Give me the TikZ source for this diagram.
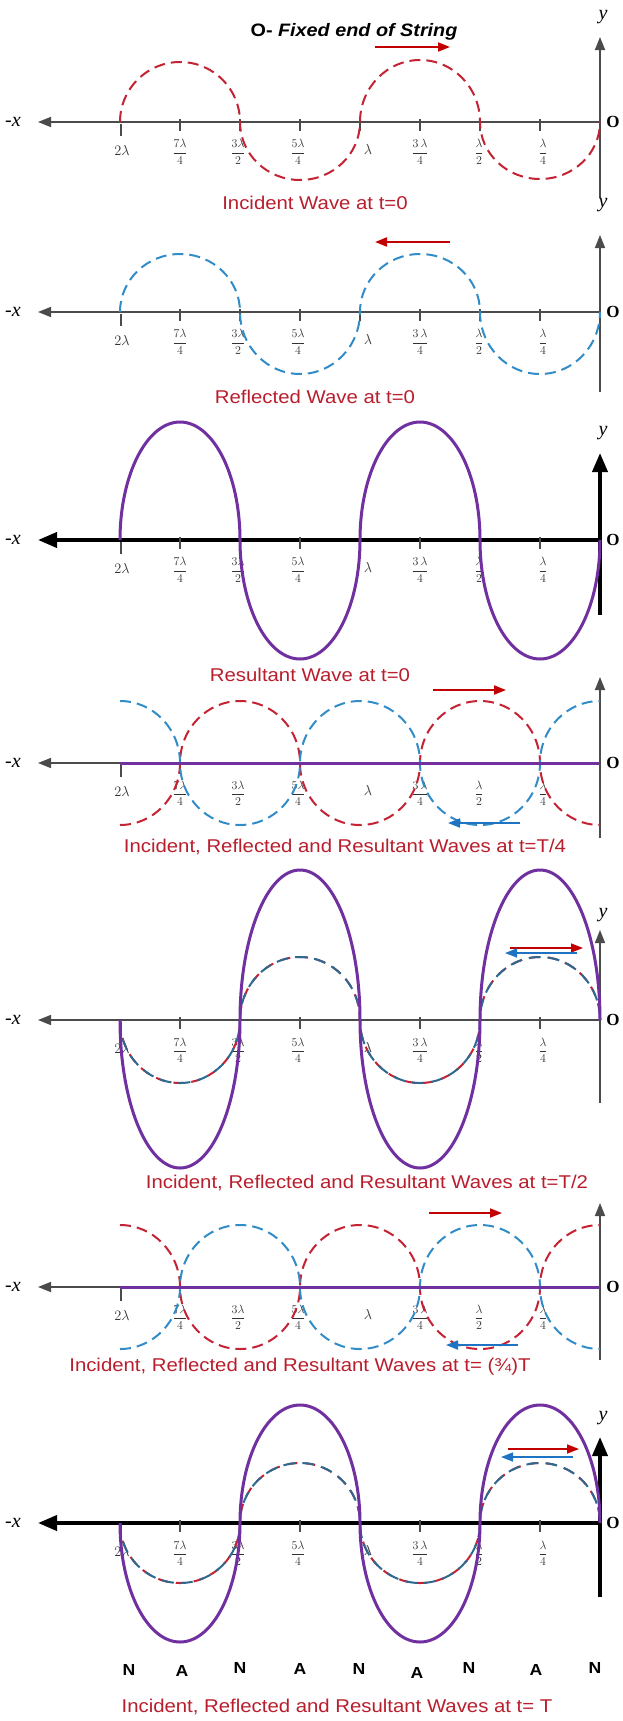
\documentclass[tikz,border=0pt]{standalone}
\usepackage{fontspec}
\usepackage{amsmath}
\usetikzlibrary{arrows.meta}
\newfontfamily\capfont[FakeStretch=1.1]{Liberation Sans}
\newfontfamily\serfont{Liberation Serif}
\definecolor{wred}{RGB}{195,35,50}
\definecolor{wblue}{RGB}{50,140,200}
\definecolor{wteal}{RGB}{45,105,145}
\definecolor{wpurple}{RGB}{112,48,160}
\definecolor{capred}{RGB}{185,30,45}
\definecolor{arrred}{RGB}{195,0,0}
\definecolor{arrblue}{RGB}{30,115,195}
\definecolor{axgray}{RGB}{75,75,75}
\tikzset{
 axthin/.style={draw=axgray,line width=1.6pt,-{Triangle[length=13pt,width=10pt]}},
 axthick/.style={draw=black,line width=3.8pt,-{Triangle[length=19pt,width=15pt]}},
 tickst/.style={draw=axgray,line width=1.2pt},
 incw/.style={draw=wred,line width=2pt,dash pattern=on 11pt off 6pt},
 refw/.style={draw=wblue,line width=2pt,dash pattern=on 11pt off 6pt},
 incw2/.style={draw=wred,line width=2pt,dash pattern=on 10pt off 8pt},
 refw2/.style={draw=wteal,line width=2pt,dash pattern=on 12pt off 7pt},
 resw/.style={draw=wpurple,line width=3pt},
 redarr/.style={draw=arrred,line width=1.8pt,-{Triangle[length=12pt,width=9pt]}},
 bluearr/.style={draw=arrblue,line width=1.8pt,-{Triangle[length=12pt,width=9pt]}},
 captxt/.style={text=capred,font=\capfont\fontsize{18.5}{20}\selectfont,inner sep=0pt},
 titl/.style={text=black,font=\capfont\bfseries\fontsize{18}{20}\selectfont,inner sep=0pt},
 xlab/.style={font=\serfont\itshape\fontsize{20}{20}\selectfont,inner sep=0pt},
 olab/.style={font=\serfont\bfseries\fontsize{17}{20}\selectfont,inner sep=0pt},
 tlab/.style={font=\fontsize{12}{13}\selectfont,inner sep=0pt,text=black!80},
 tlabb/.style={font=\fontsize{15}{15}\selectfont,inner sep=0pt,text=black!80},
 nalab/.style={font=\capfont\bfseries\fontsize{16}{18}\selectfont,inner sep=0pt},
 cst/.style={start angle=180,end angle=0,x radius=60pt,y radius=#1},
 trg/.style={start angle=180,end angle=360,x radius=60pt,y radius=#1},
}
% axes: #1 name, #2 axis y, #3 style, #4 y-axis top, #5 y-axis bottom
\newcommand\axes[5]{%
 \coordinate (o#1) at (600,#2);
 \coordinate (xe#1) at (38,#2);
 \coordinate (yt#1) at (600,#4);
 \coordinate (yb#1) at (600,#5);
 \draw[#3] (o#1) -- (xe#1);
 \draw[#3] (yb#1) -- (yt#1);
 \node[xlab] (xl#1) at (13,#2) {-x};
 \node[olab] (ol#1) at (613,#2) {O};
}
\newcommand\allticks[1]{%
 \foreach \t in {180,240,...,540} {\draw[tickst] (\t,{#1-3}) -- (\t,{#1+9});}
}
\newcommand\ticklbls[1]{%
 \draw[tickst] (121,{#1+2}) -- (121,{#1+14});
 \node[tlabb] at (122,{#1+28}) {$2\lambda$};
 \node[tlab] at (180,{#1+30}) {$\dfrac{7\lambda}{4}$};
 \node[tlab] at (238,{#1+30}) {$\dfrac{3\lambda}{2}$};
 \node[tlab] at (298,{#1+30}) {$\dfrac{5\lambda}{4}$};
 \node[tlabb] at (368,{#1+27}) {$\lambda$};
 \node[tlab] at (420,{#1+30}) {$\dfrac{3\,\lambda}{4}$};
 \node[tlab] at (479,{#1+30}) {$\dfrac{\lambda}{2}$};
 \node[tlab] at (543,{#1+30}) {$\dfrac{\lambda}{4}$};
}
\begin{document}
\begin{tikzpicture}[x=1pt,y=-1pt]
\useasboundingbox (0,0) rectangle (622,1721);
\fill[white] (0,0) rectangle (622,1721);

% ---------- Panel 1: incident ----------
\node[titl] (title) at (354,32) {O- \itshape Fixed end of String};
\axes{1}{122}{axthin}{37}{198}
\node[xlab] (y1) at (603,17) {y};
\allticks{122}\ticklbls{122}
\draw[incw] (120,122) arc[cst=60pt] arc[trg=58pt] arc[cst=62pt] arc[trg=57pt];
\coordinate (a1s) at (375,47); \coordinate (a1e) at (450,47);
\draw[redarr] (a1s) -- (a1e);
\node[captxt] (c1) at (315,203) {Incident Wave at t=0};

% ---------- Panel 2: reflected ----------
\axes{2}{312}{axthin}{235}{392}
\node[xlab] (y2) at (603,205) {y};
\allticks{312}\ticklbls{312}
\draw[refw] (120,312) arc[cst=58pt] arc[trg=62pt] arc[cst=58pt] arc[trg=62pt];
\coordinate (a2s) at (450,242); \coordinate (a2e) at (375,242);
\draw[redarr] (a2s) -- (a2e);
\node[captxt] (c2) at (315,397) {Reflected Wave at t=0};

% ---------- Panel 3: resultant t=0 ----------
\axes{3}{540}{axthick}{453}{615}
\node[xlab] (y3) at (603,433) {y};
\allticks{540}\ticklbls{540}
\draw[resw] (120,540) arc[cst=118pt] arc[trg=119pt] arc[cst=118pt] arc[trg=119pt];
\node[captxt] (c3) at (310,675) {Resultant Wave at t=0};

% ---------- Panel 4: t=T/4 ----------
\axes{4}{763}{axthin}{677}{838}
\ticklbls{763}
\draw[incw] (120,825) arc[start angle=270,end angle=360,x radius=60pt,y radius=62pt]
  arc[cst=62pt] arc[trg=62pt] arc[cst=62pt]
  arc[start angle=180,end angle=270,x radius=60pt,y radius=62pt];
\draw[refw] (120,701) arc[start angle=90,end angle=0,x radius=60pt,y radius=62pt]
  arc[trg=62pt] arc[cst=62pt] arc[trg=62pt]
  arc[start angle=180,end angle=90,x radius=60pt,y radius=62pt];
\coordinate (r4s) at (120,763);
\draw[resw] (r4s) -- (o4);
\coordinate (a4s) at (433,690); \coordinate (a4e) at (506,690);
\draw[redarr] (a4s) -- (a4e);
\coordinate (b4s) at (520,823); \coordinate (b4e) at (448,823);
\draw[bluearr] (b4s) -- (b4e);
\node[captxt] (c4) at (345,847) {Incident, Reflected and Resultant Waves at t=T/4};

% ---------- Panel 5: t=T/2 ----------
\axes{5}{1020}{axthin}{930}{1103}
\node[xlab] (y5) at (603,915) {y};
\allticks{1020}\ticklbls{1020}
\draw[incw2] (120,1020) arc[trg=63pt] arc[cst=63pt] arc[trg=63pt] arc[cst=63pt];
\draw[refw2] (120,1020) arc[trg=63pt] arc[cst=63pt] arc[trg=63pt] arc[cst=63pt];
\draw[resw] (120,1020) arc[trg=148pt] arc[cst=150pt] arc[trg=148pt] arc[cst=150pt];
\coordinate (a5s) at (510,948); \coordinate (a5e) at (583,948);
\draw[redarr,line width=1.5pt] (a5s) -- (a5e);
\coordinate (b5s) at (577,953); \coordinate (b5e) at (505,953);
\draw[bluearr,line width=1.5pt] (b5s) -- (b5e);
\node[captxt] (c5) at (367,1183) {Incident, Reflected and Resultant Waves at t=T/2};

% ---------- Panel 6: t=3T/4 ----------
\axes{6}{1287}{axthin}{1203}{1360}
\ticklbls{1287}
\draw[incw] (120,1225) arc[start angle=90,end angle=0,x radius=60pt,y radius=62pt]
  arc[trg=62pt] arc[cst=62pt] arc[trg=62pt]
  arc[start angle=180,end angle=90,x radius=60pt,y radius=62pt];
\draw[refw] (120,1349) arc[start angle=270,end angle=360,x radius=60pt,y radius=62pt]
  arc[cst=62pt] arc[trg=62pt] arc[cst=62pt]
  arc[start angle=180,end angle=270,x radius=60pt,y radius=62pt];
\coordinate (r6s) at (120,1287);
\draw[resw] (r6s) -- (o6);
\coordinate (a6s) at (429,1213); \coordinate (a6e) at (502,1213);
\draw[redarr] (a6s) -- (a6e);
\coordinate (b6s) at (518,1345); \coordinate (b6e) at (446,1345);
\draw[bluearr] (b6s) -- (b6e);
\node[captxt] (c6) at (300,1367) {Incident, Reflected and Resultant Waves at t= (¾)T};

% ---------- Panel 7: t=T ----------
\axes{7}{1523}{axthick}{1437}{1597}
\node[xlab] (y7) at (603,1418) {y};
\allticks{1523}\ticklbls{1523}
\draw[incw2] (120,1523) arc[trg=60pt] arc[cst=60pt] arc[trg=60pt] arc[cst=60pt];
\draw[refw2] (120,1523) arc[trg=60pt] arc[cst=60pt] arc[trg=60pt] arc[cst=60pt];
\draw[resw] (120,1523) arc[trg=119pt] arc[cst=118pt] arc[trg=119pt] arc[cst=118pt];
\coordinate (a7s) at (508,1449); \coordinate (a7e) at (579,1449);
\draw[redarr,line width=1.5pt] (a7s) -- (a7e);
\coordinate (b7s) at (573,1457); \coordinate (b7e) at (501,1457);
\draw[bluearr,line width=1.5pt] (b7s) -- (b7e);
\node[nalab] (n1) at (129,1670) {N};
\node[nalab] (an1) at (182,1671) {A};
\node[nalab] (n2) at (240,1668) {N};
\node[nalab] (an2) at (300,1669) {A};
\node[nalab] (n3) at (359,1669) {N};
\node[nalab] (an3) at (417,1673) {A};
\node[nalab] (n4) at (469,1668) {N};
\node[nalab] (an4) at (536,1670) {A};
\node[nalab] (n5) at (595,1668) {N};
\node[captxt] (c7) at (337,1707) {Incident, Reflected and Resultant Waves at t= T};
\end{tikzpicture}
\end{document}
